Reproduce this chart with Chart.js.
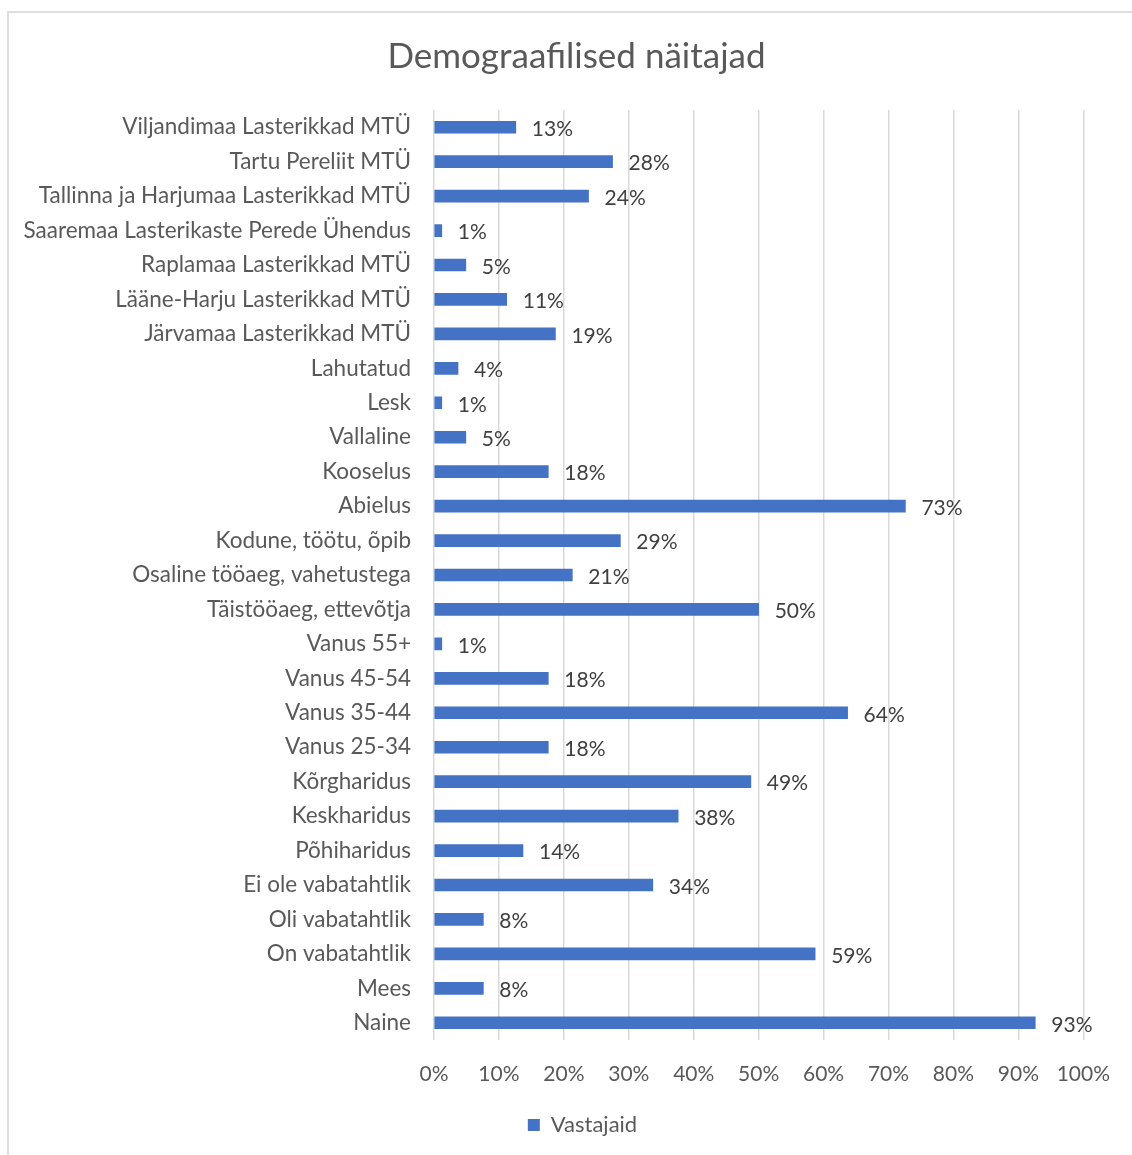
<!DOCTYPE html>
<html>
<head>
<meta charset="utf-8">
<script src="https://cdn.jsdelivr.net/npm/chart.js@4/dist/chart.umd.min.js"></script>
<style>
  html, body { margin: 0; padding: 0; background: #ffffff; overflow: hidden; }
  #wrap { position: relative; width: 1132px; height: 1155px; }
  #frame { position: absolute; left: 7px; top: 11px; width: 1300px; height: 1300px;
           border-left: 2px solid #dedede; border-top: 2px solid #dedede; pointer-events: none; }
  canvas { position: absolute; left: 0; top: 0; }
</style>
</head>
<body>
<div id="wrap">
  <canvas id="c" width="1132" height="1155"></canvas>
  <div id="frame"></div>
</div>
<script>
const chartTitle = 'Demograafilised näitajad';
const seriesName = 'Vastajaid';
const categories = [
  'Viljandimaa Lasterikkad MTÜ',
  'Tartu Pereliit MTÜ',
  'Tallinna ja Harjumaa Lasterikkad MTÜ',
  'Saaremaa Lasterikaste Perede Ühendus',
  'Raplamaa Lasterikkad MTÜ',
  'Lääne-Harju Lasterikkad MTÜ',
  'Järvamaa Lasterikkad MTÜ',
  'Lahutatud',
  'Lesk',
  'Vallaline',
  'Kooselus',
  'Abielus',
  'Kodune, töötu, õpib',
  'Osaline tööaeg, vahetustega',
  'Täistööaeg, ettevõtja',
  'Vanus 55+',
  'Vanus 45-54',
  'Vanus 35-44',
  'Vanus 25-34',
  'Kõrgharidus',
  'Keskharidus',
  'Põhiharidus',
  'Ei ole vabatahtlik',
  'Oli vabatahtlik',
  'On vabatahtlik',
  'Mees',
  'Naine'
];
const values = [12.6, 27.5, 23.8, 1.2, 4.9, 11.2, 18.7, 3.7, 1.2, 4.9, 17.6, 72.6, 28.7, 21.3, 50.0, 1.2, 17.6, 63.7, 17.6, 48.8, 37.6, 13.7, 33.7, 7.6, 58.7, 7.6, 92.6];
const valueLabels = ['13%', '28%', '24%', '1%', '5%', '11%', '19%', '4%', '1%', '5%', '18%', '73%', '29%', '21%', '50%', '1%', '18%', '64%', '18%', '49%', '38%', '14%', '34%', '8%', '59%', '8%', '93%'];
const xTicks = [0, 10, 20, 30, 40, 50, 60, 70, 80, 90, 100];

const FONT = 'Lato, "Open Sans", sans-serif';

const dataLabelPlugin = {
  id: 'dataLabels',
  afterDatasetsDraw(chart) {
    const ctx = chart.ctx;
    const meta = chart.getDatasetMeta(0);
    ctx.save();
    ctx.font = '21px ' + FONT;
    ctx.fillStyle = '#404040';
    ctx.textAlign = 'left';
    ctx.textBaseline = 'middle';
    meta.data.forEach((bar, i) => {
      ctx.fillText(valueLabels[i], bar.x + 16, bar.y + 2);
    });
    ctx.restore();
  }
};

// shift title and legend centring to match the original layout
const boxShiftPlugin = {
  id: 'boxShift',
  afterLayout(chart) {
    if (chart.titleBlock) chart.titleBlock.left += 64;
    if (chart.legend) chart.legend.left += 76;
  }
};

new Chart(document.getElementById('c'), {
  type: 'bar',
  data: {
    labels: categories,
    datasets: [{
      label: seriesName,
      data: values,
      backgroundColor: '#4472C4',
      borderWidth: 0,
      barThickness: 12
    }]
  },
  options: {
    indexAxis: 'y',
    responsive: false,
    animation: false,
    layout: { padding: { left: 0, right: 43, top: 0, bottom: 9 } },
    plugins: {
      title: {
        display: true,
        text: chartTitle,
        color: '#595959',
        font: { family: FONT, size: 35, weight: 'normal' },
        padding: { top: 36, bottom: 32 }
      },
      legend: {
        position: 'bottom',
        labels: {
          color: '#595959',
          font: { family: FONT, size: 22 },
          boxWidth: 12,
          boxHeight: 12,
          padding: 10
        }
      },
      tooltip: { enabled: false }
    },
    scales: {
      x: {
        min: 0,
        max: 100,
        afterBuildTicks(scale) { scale.ticks = xTicks.map(v => ({ value: v })); },
        afterFit(scale) { scale.height = 64; },
        ticks: {
          color: '#595959',
          font: { family: FONT, size: 21 },
          padding: 22,
          callback: (v) => v + '%'
        },
        grid: { color: '#d9d9d9', lineWidth: 1.5, drawTicks: false },
        border: { display: false }
      },
      y: {
        afterFit(scale) { scale.width = 434; },
        ticks: {
          color: '#595959',
          font: { family: FONT, size: 22.5 },
          padding: 15,
          autoSkip: false
        },
        grid: { display: false },
        border: { display: false }
      }
    }
  },
  plugins: [dataLabelPlugin, boxShiftPlugin]
});
</script>
</body>
</html>
